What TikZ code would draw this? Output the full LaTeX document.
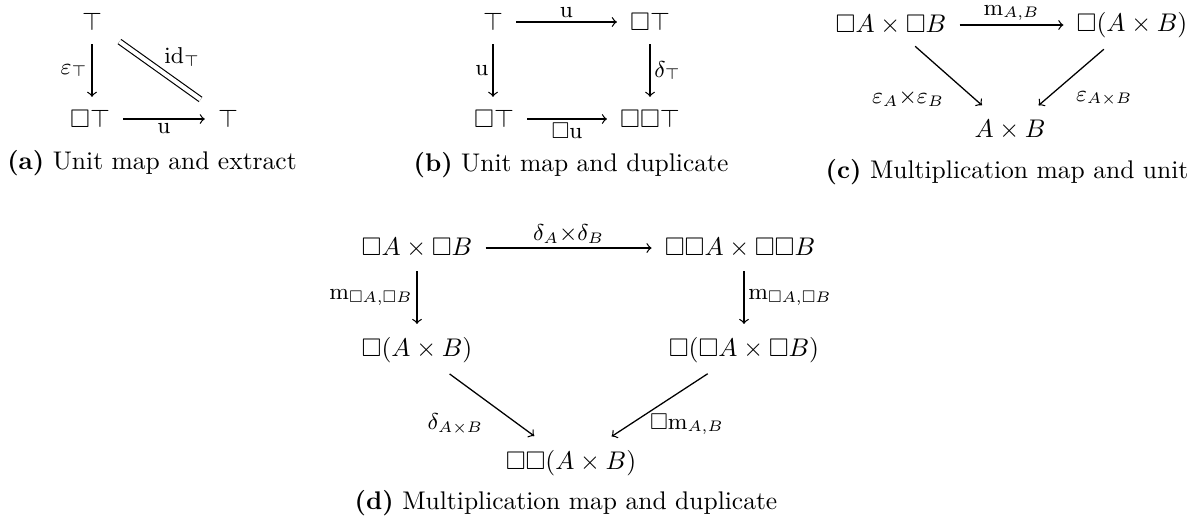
\documentclass[tikz,border=0pt]{standalone}
\usepackage{amssymb}
\begin{document}
\begin{tikzpicture}[x=0.392pt,y=-0.392pt,
  obj/.style={inner sep=3pt},
  lbl/.style={font=\small, inner sep=1.5pt},
  arr/.style={->, line width=0.5pt, shorten <=2pt, shorten >=2pt},
  diag/.style={->, line width=0.5pt, shorten <=2pt, shorten >=4pt},
  captxt/.style={inner sep=0pt}]
\useasboundingbox (0,0) rectangle (1202,520);

% (a)
\node[obj] (a1) at (92,22) {$\top$};
\node[obj] (a2) at (90,119) {$\square\top$};
\node[obj] (a3) at (228,119) {$\top$};
\draw[arr] (a1.south) -- (a1.south |- a2.north) node[midway,left,lbl] {$\varepsilon_\top$};
\draw[line width=0.45pt, double, double distance=1.6pt, shorten <=4.5pt, shorten >=4.5pt] (a1) -- (a3) node[midway, above right, lbl] {$\mathrm{id}_\top$};
\draw[arr] (a2) -- (a3) node[midway,below,lbl] {$\mathrm{u}$};
\node[captxt] (capa) at (152,163) {\textbf{(a)} Unit map and extract};

% (b)
\node[obj] (b1) at (493,22) {$\top$};
\node[obj] (b2) at (650,22) {$\square\top$};
\node[obj] (b3) at (494,119) {$\square\top$};
\node[obj] (b4) at (650,119) {$\square\square\top$};
\draw[arr] (b1) -- (b2) node[midway,above,lbl] {$\mathrm{u}$};
\draw[arr] (b1.south) -- (b1.south |- b3.north) node[midway,left,lbl] {$\mathrm{u}$};
\draw[arr] (b2) -- (b4) node[midway,right,lbl] {$\delta_\top$};
\draw[arr] (b3) -- (b4) node[midway,below,lbl] {$\square\mathrm{u}$};
\node[captxt] (capb) at (571,165) {\textbf{(b)} Unit map and duplicate};

% (c)
\node[obj] (c1) at (891,25) {$\square A\times\square B$};
\node[obj] (c2) at (1132,25) {$\square(A\times B)$};
\node[obj] (c3) at (1010,130) {$A\times B$};
\draw[arr] (c1) -- (c2) node[midway,above,lbl] {$\mathrm{m}_{A,B}$};
\draw[diag] (c1) -- (c3) node[pos=0.8,left=10pt,lbl] {$\varepsilon_A{\times}\varepsilon_B$};
\draw[diag] (c2) -- (c3) node[pos=0.8,right=10pt,lbl] {$\varepsilon_{A\times B}$};
\node[captxt] (capc) at (1007,172) {\textbf{(c)} Multiplication map and unit};

% (d)
\node[obj] (d1) at (417,248) {$\square A\times\square B$};
\node[obj] (d2) at (740,248) {$\square\square A\times\square\square B$};
\node[obj] (d3) at (417,350) {$\square(A\times B)$};
\node[obj] (d4) at (744,350) {$\square(\square A\times\square B)$};
\node[obj] (d5) at (571,463) {$\square\square(A\times B)$};
\draw[arr] (d1) -- (d2) node[midway,above,lbl] {$\delta_A{\times}\delta_B$};
\draw[arr] (d1) -- (d3) node[midway,left,lbl] {$\mathrm{m}_{\square A,\square B}$};
\draw[arr] (d2.south -| d4) -- (d4) node[midway,right,lbl] {$\mathrm{m}_{\square A,\square B}$};
\draw[diag] (d3) -- (d5) node[pos=0.75,left=12pt,lbl] {$\delta_{A\times B}$};
\draw[diag] (d4) -- (d5) node[pos=0.75,right=6pt,lbl] {$\square\mathrm{m}_{A,B}$};
\node[captxt] (capd) at (566,503) {\textbf{(d)} Multiplication map and duplicate};
\end{tikzpicture}
\end{document}
